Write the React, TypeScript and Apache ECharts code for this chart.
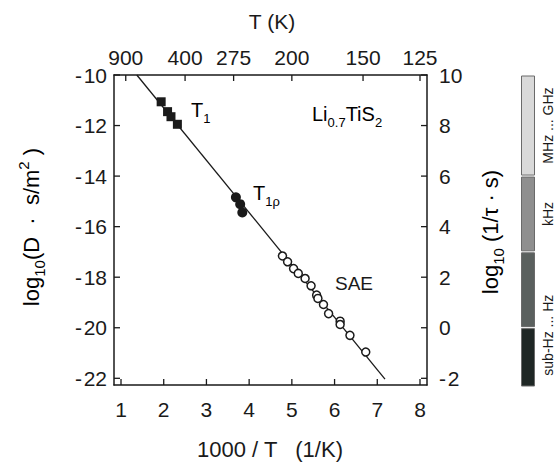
import React, { useEffect, useRef } from 'react';
import * as echarts from 'echarts';

// ---- data ----
const xTicks = [1, 2, 3, 4, 5, 6, 7, 8];
const topTempTicks = [900, 400, 275, 200, 150, 125];
const leftTicks = [-22, -20, -18, -16, -14, -12, -10];
const rightTicks = [-2, 0, 2, 4, 6, 8, 10];

const t1Points = [
  [1.94, -11.06],
  [2.09, -11.45],
  [2.17, -11.65],
  [2.32, -11.95],
];
const t1rhoPoints = [
  [3.69, -14.84],
  [3.79, -15.11],
  [3.84, -15.44],
];
const saePoints = [
  [4.78, -17.16],
  [4.9, -17.39],
  [5.04, -17.66],
  [5.15, -17.85],
  [5.31, -18.05],
  [5.45, -18.34],
  [5.58, -18.71],
  [5.61, -18.84],
  [5.74, -19.08],
  [5.86, -19.44],
  [6.13, -19.74],
  [6.13, -19.87],
  [6.36, -20.3],
  [6.73, -20.96],
];
const fitLine = [
  [1.37, -10.0],
  [7.18, -22.03],
];

const bandRanges = [
  [6, 10],
  [3, 6],
  [0, 3],
  [-2.35, 0],
];
const bandColors = ['#d9d9d9', '#8f8f8f', '#5a605e', '#1f2725'];
const bandLabels = ['MHz ... GHz', 'kHz', 'sub-Hz ... Hz'];
const bandLabelAt = [8, 4.5, -0.3];

const FONT = '"Liberation Sans", Arial, Helvetica, sans-serif';
const INK = '#1a1a1a';
const X_MIN = 0.836, X_MAX = 8.164;
const YL_MIN = -22.265, YL_MAX = -10;
const YR_MIN = -2.265, YR_MAX = 10;
const TICK_LEN = 6;

const richBase = (size: number) => ({
  m: { fontSize: size, lineHeight: size + 9, fontFamily: FONT, color: INK },
  s: { fontSize: Math.round(size * 0.66), lineHeight: Math.round(size * 0.66), verticalAlign: 'bottom', fontFamily: FONT, color: INK },
  p: { fontSize: Math.round(size * 0.66), lineHeight: Math.round(size * 0.66), verticalAlign: 'top', fontFamily: FONT, color: INK },
});

const fmtNum = (v: number) => (v < 0 ? '-\u200A' + String(Math.abs(v)) : String(v));

// custom series drawing inward ticks along one side of the plot box
const tickSeries = (side: 'bottom' | 'top' | 'left' | 'right', values: number[]) => ({
  type: 'custom',
  xAxisIndex: 0,
  yAxisIndex: side === 'right' ? 1 : 0,
  data: values.map((v) => [v]),
  silent: true,
  clip: false,
  z: 5,
  renderItem: (params: any, api: any) => {
    const v = api.value(0);
    let p0: number[];
    let dx = 0, dy = 0;
    if (side === 'bottom') { p0 = api.coord([v, YL_MIN]); dy = -TICK_LEN; }
    else if (side === 'top') { p0 = api.coord([v, YL_MAX]); dy = TICK_LEN; }
    else if (side === 'left') { p0 = api.coord([X_MIN, v]); dx = TICK_LEN; }
    else { p0 = api.coord([X_MAX, v]); dx = -TICK_LEN; }
    return {
      type: 'line',
      shape: { x1: p0[0], y1: p0[1], x2: p0[0] + dx, y2: p0[1] + dy },
      style: { stroke: INK, lineWidth: 1.3 },
    };
  },
});

export default function App() {
  const ref = useRef<HTMLDivElement>(null);
  useEffect(() => {
    if (!ref.current) return;
    const chart = echarts.init(ref.current, undefined, { renderer: 'svg' });
    const axisLine = { show: true, onZero: false, lineStyle: { color: INK, width: 1.5 } };
    const label = (vals: number[], margin: number, extra: any = {}) => ({
      show: true, customValues: vals, margin, fontSize: 21, color: INK, fontFamily: FONT, formatter: fmtNum, ...extra,
    });
    const topVals = topTempTicks.map((t) => 1000 / t);

    chart.setOption({
      animation: false,
      backgroundColor: '#fff',
      grid: [
        { left: 114, top: 75, width: 313, height: 310, containLabel: false },
        { left: 521, top: 75, width: 13, height: 312, containLabel: false },
      ],
      xAxis: [
        {
          type: 'value', gridIndex: 0, position: 'bottom', min: X_MIN, max: X_MAX,
          axisLine, axisTick: { show: false }, axisLabel: label(xTicks, 14), splitLine: { show: false },
        },
        {
          type: 'value', gridIndex: 0, position: 'top', min: X_MIN, max: X_MAX,
          axisLine, axisTick: { show: false },
          axisLabel: label(topVals, 7, { formatter: (v: number) => String(Math.round(1000 / v)) }),
          splitLine: { show: false },
        },
        { type: 'value', gridIndex: 1, min: 0, max: 1, show: false },
      ],
      yAxis: [
        {
          type: 'value', gridIndex: 0, position: 'left', min: YL_MIN, max: YL_MAX,
          axisLine, axisTick: { show: false }, axisLabel: label(leftTicks, 7), splitLine: { show: false },
        },
        {
          type: 'value', gridIndex: 0, position: 'right', min: YR_MIN, max: YR_MAX,
          axisLine, axisTick: { show: false }, axisLabel: label(rightTicks, 12), splitLine: { show: false },
        },
        { type: 'value', gridIndex: 1, min: -2.35, max: 10, show: false },
      ],
      series: [
        {
          type: 'line', xAxisIndex: 0, yAxisIndex: 0, data: fitLine, symbol: 'none', z: 1,
          lineStyle: { color: INK, width: 1.3 }, silent: true,
        },
        {
          type: 'scatter', xAxisIndex: 0, yAxisIndex: 0, data: t1Points, symbol: 'rect', symbolSize: 9, z: 3,
          itemStyle: { color: INK, opacity: 1 },
        },
        {
          type: 'scatter', xAxisIndex: 0, yAxisIndex: 0, data: t1rhoPoints, symbol: 'circle', symbolSize: 10, z: 3,
          itemStyle: { color: INK, opacity: 1 },
        },
        {
          type: 'scatter', xAxisIndex: 0, yAxisIndex: 0, data: saePoints, symbol: 'circle', symbolSize: 8, z: 3,
          itemStyle: { color: '#fff', borderColor: INK, borderWidth: 1.5, opacity: 1 },
        },
        tickSeries('bottom', xTicks),
        tickSeries('top', topVals),
        tickSeries('left', leftTicks),
        tickSeries('right', rightTicks),
        {
          type: 'custom', xAxisIndex: 2, yAxisIndex: 2, data: bandRanges, silent: true,
          renderItem: (params: any, api: any) => {
            const lo = api.value(0), hi = api.value(1);
            const top = api.coord([0, hi]);
            const bot = api.coord([0, lo]);
            const cs = params.coordSys;
            return {
              type: 'rect',
              shape: { x: cs.x + 0.5, y: top[1] + 1, width: cs.width, height: bot[1] - top[1] - 2 },
              style: { fill: bandColors[params.dataIndex], stroke: '#6a6a6a', lineWidth: 1 },
            };
          },
        },
        {
          type: 'custom', xAxisIndex: 2, yAxisIndex: 2, data: bandLabelAt.map((v) => [0, v]), silent: true,
          renderItem: (params: any, api: any) => {
            const p = api.coord([0, api.value(1)]);
            const cs = params.coordSys;
            return {
              type: 'text', x: cs.x + cs.width + 14, y: p[1], rotation: Math.PI / 2,
              style: { text: bandLabels[params.dataIndex], align: 'center', verticalAlign: 'middle', fontSize: 14, fontFamily: FONT, fill: INK },
            };
          },
        },
      ],
      graphic: [
        { type: 'text', x: 272, y: 21, style: { text: 'T (K)', align: 'center', verticalAlign: 'middle', fontSize: 21, fontFamily: FONT, fill: INK } },
        { type: 'text', x: 270, y: 449, style: { text: '1000 / T   (1/K)', align: 'center', verticalAlign: 'middle', fontSize: 22, fontFamily: FONT, fill: INK } },
        {
          type: 'text', x: 31, y: 227, rotation: Math.PI / 2,
          style: { text: '{m|log}{s|10}{m|(D  ·  s/m}{p|2}{m| )}', rich: richBase(22), align: 'center', verticalAlign: 'middle' },
        },
        {
          type: 'text', x: 490, y: 232, rotation: Math.PI / 2,
          style: { text: '{m|log}{s|10}{m| (1/τ · s)}', rich: richBase(22), align: 'center', verticalAlign: 'middle' },
        },
        { type: 'text', x: 191, y: 110, style: { text: '{m|T}{s|1}', rich: richBase(20), align: 'left', verticalAlign: 'middle' } },
        { type: 'text', x: 253, y: 193, style: { text: '{m|T}{s|1ρ}', rich: richBase(20), align: 'left', verticalAlign: 'middle' } },
        { type: 'text', x: 312, y: 114, style: { text: '{m|Li}{s|0.7}{m|TiS}{s|2}', rich: richBase(20), align: 'left', verticalAlign: 'middle' } },
        { type: 'text', x: 335, y: 283, style: { text: 'SAE', align: 'left', verticalAlign: 'middle', fontSize: 19, fontFamily: FONT, fill: INK } },
      ],
    });
    return () => chart.dispose();
  }, []);
  return <div ref={ref} style={{ position: 'absolute', left: 0, top: 0, width: 555, height: 468 }} />;
}
